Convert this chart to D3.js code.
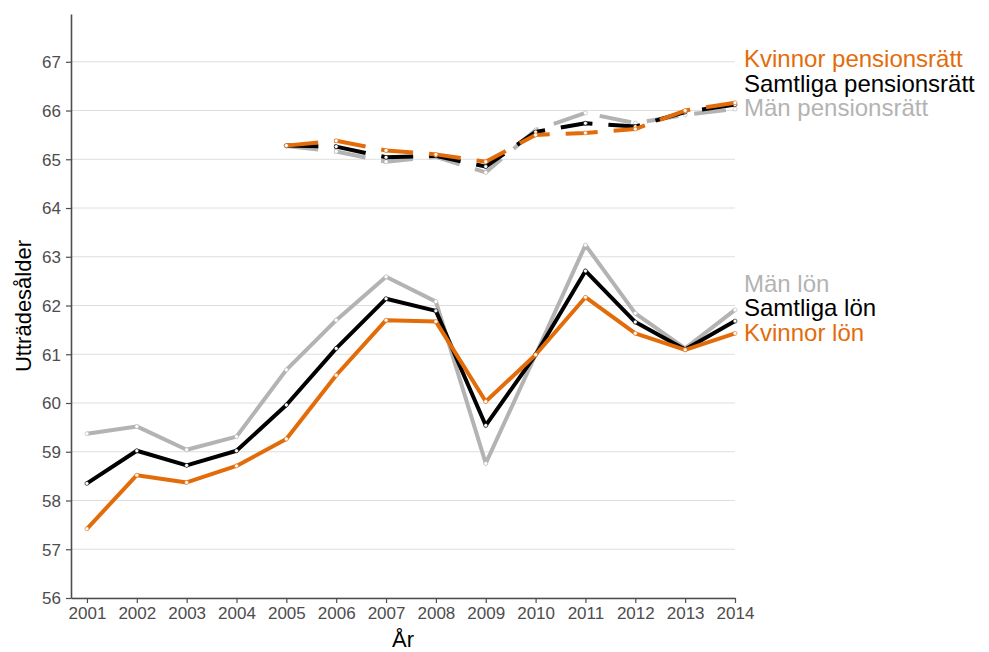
<!DOCTYPE html>
<html>
<head>
<meta charset="utf-8">
<script src="https://cdn.jsdelivr.net/npm/d3@7"></script>
<style>
  body { margin: 0; background: #fff; }
  text { font-family: "Liberation Sans", Arial, sans-serif; }
</style>
</head>
<body>
<div id="app"></div>
<script>
// Years on the x axis
const years = [2001, 2002, 2003, 2004, 2005, 2006, 2007, 2008, 2009, 2010, 2011, 2012, 2013, 2014];
const pensionYears = [2005, 2006, 2007, 2008, 2009, 2010, 2011, 2012, 2013, 2014];

// Exit age based on wage income (lön)
const manLon = [59.37, 59.52, 59.04, 59.31, 60.68, 61.70, 62.59, 62.08, 58.76, 60.99, 63.24, 61.84, 61.12, 61.91];
const samtligaLon = [58.35, 59.02, 58.72, 59.02, 59.96, 61.12, 62.14, 61.89, 59.54, 60.99, 62.71, 61.66, 61.10, 61.68];
const kvinnorLon = [57.42, 58.52, 58.37, 58.71, 59.26, 60.57, 61.70, 61.67, 60.03, 60.99, 62.17, 61.43, 61.09, 61.43];

// Exit age based on pension rights (pensionsrätt)
const manPension = [65.27, 65.16, 64.95, 65.05, 64.73, 65.60, 65.95, 65.74, 65.91, 66.03];
const samtligaPension = [65.28, 65.26, 65.04, 65.07, 64.85, 65.56, 65.74, 65.67, 65.97, 66.12];
const kvinnorPension = [65.28, 65.38, 65.18, 65.10, 64.95, 65.50, 65.54, 65.62, 66.00, 66.16];

const yTicks = [56, 57, 58, 59, 60, 61, 62, 63, 64, 65, 66, 67];

const orange = "#e36c0a";
const grey = "#b3b3b3";
const black = "#000000";

const width = 989, height = 652;
const margin = { top: 14, right: 254, bottom: 54, left: 71 };

const svg = d3.select("#app")
  .append("svg")
  .attr("width", width)
  .attr("height", height);

const x = d3.scaleLinear()
  .domain([2000.68, 2014])
  .range([margin.left, width - margin.right]);

const y = d3.scaleLinear()
  .domain([56, 67.98])
  .range([height - margin.bottom, margin.top]);

// Horizontal gridlines
svg.append("g")
  .selectAll("line")
  .data(yTicks)
  .join("line")
  .attr("x1", margin.left)
  .attr("x2", x(2014))
  .attr("y1", d => y(d))
  .attr("y2", d => y(d))
  .attr("stroke", "#dedede")
  .attr("stroke-width", 1);

// Axes
const xAxis = svg.append("g")
  .attr("transform", `translate(0,${height - margin.bottom})`)
  .call(d3.axisBottom(x).tickValues(years).tickFormat(d3.format("d")).tickSize(5).tickSizeOuter(0));

const yAxis = svg.append("g")
  .attr("transform", `translate(${margin.left},0)`)
  .call(d3.axisLeft(y).tickValues(yTicks).tickSize(5).tickSizeOuter(0));

[xAxis, yAxis].forEach(g => {
  g.select(".domain").attr("stroke", "#4d4d4d").attr("stroke-width", 1.6);
  g.selectAll(".tick line").attr("stroke", "#4d4d4d").attr("stroke-width", 1.2);
  g.selectAll(".tick text")
    .attr("fill", "#4d4d4d")
    .attr("font-size", 17)
    .attr("font-family", "Liberation Sans, Arial, sans-serif");
});
xAxis.selectAll(".tick text").attr("y", 8).attr("dy", "0.78em");
yAxis.selectAll(".tick text").attr("x", -10).attr("dy", "0.34em");

// Axis titles
svg.append("text")
  .attr("x", (margin.left + x(2014)) / 2)
  .attr("y", 647)
  .attr("text-anchor", "middle")
  .attr("font-size", 22)
  .attr("fill", "#000")
  .text("År");

svg.append("text")
  .attr("transform", `translate(31,${(margin.top + height - margin.bottom) / 2}) rotate(-90)`)
  .attr("text-anchor", "middle")
  .attr("font-size", 22)
  .attr("fill", "#000")
  .text("Utträdesålder");

const line = d3.line()
  .x(d => x(d[0]))
  .y(d => y(d[1]));

function drawSeries(xs, vals, color, dashed) {
  const pts = xs.map((yr, i) => [yr, vals[i]]);
  svg.append("path")
    .datum(pts)
    .attr("fill", "none")
    .attr("stroke", color)
    .attr("stroke-width", 4)
    .attr("stroke-linejoin", "round")
    .attr("stroke-dasharray", dashed ? "32,16" : null)
    .attr("d", line);
  svg.append("g")
    .selectAll("circle")
    .data(pts)
    .join("circle")
    .attr("cx", d => x(d[0]))
    .attr("cy", d => y(d[1]))
    .attr("r", 2)
    .attr("fill", "#fff")
    .attr("stroke", color)
    .attr("stroke-width", 0.6);
}

drawSeries(years, manLon, grey, false);
drawSeries(years, samtligaLon, black, false);
drawSeries(years, kvinnorLon, orange, false);

drawSeries(pensionYears, manPension, grey, true);
drawSeries(pensionYears, samtligaPension, black, true);
drawSeries(pensionYears, kvinnorPension, orange, true);

// Direct labels to the right of the lines
const labels = [
  { text: "Kvinnor pensionsrätt", color: orange, y: 67 },
  { text: "Samtliga pensionsrätt", color: black, y: 91.5 },
  { text: "Män pensionsrätt", color: grey, y: 115.5 },
  { text: "Män lön", color: grey, y: 291.5 },
  { text: "Samtliga lön", color: black, y: 316 },
  { text: "Kvinnor lön", color: orange, y: 340.5 }
];

svg.append("g")
  .selectAll("text")
  .data(labels)
  .join("text")
  .attr("x", x(2014) + 9)
  .attr("y", d => d.y)
  .attr("font-size", 24)
  .attr("fill", d => d.color)
  .text(d => d.text);
</script>
</body>
</html>
